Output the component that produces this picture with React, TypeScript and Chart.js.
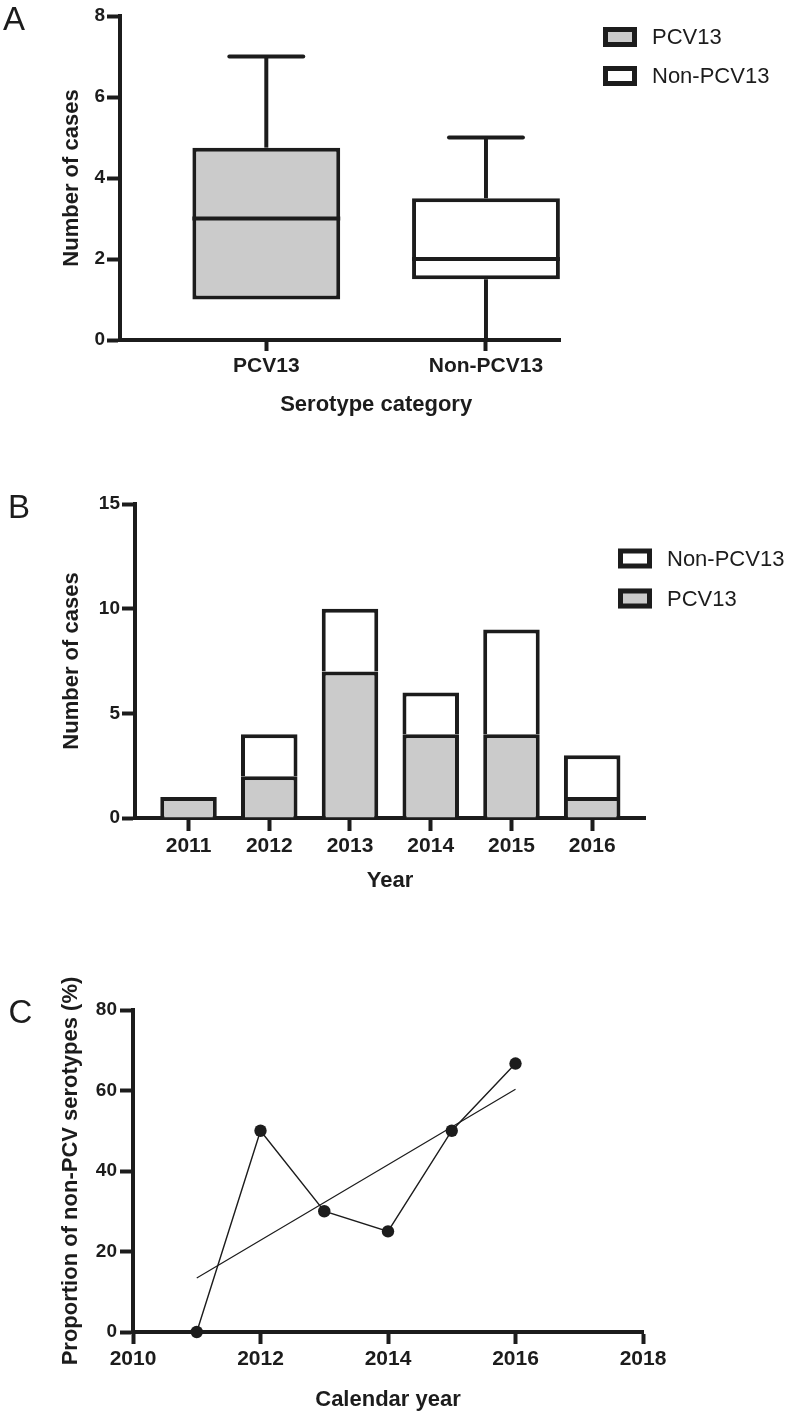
import React, { useEffect, useRef } from "react";
import { Chart, registerables } from "chart.js";

Chart.register(...registerables);

// ---------- Panel A: box plot of cases per year by serotype category ----------
const serotypeCategories = ["PCV13", "Non-PCV13"];
const boxMin = [1, 0];
const boxQ1 = [1, 1.5];
const boxMedian = [3, 2];
const boxQ3 = [4.75, 3.5];
const boxMax = [7, 5];

// ---------- Panel B: stacked cases per year ----------
const years = [2011, 2012, 2013, 2014, 2015, 2016];
const pcv13Cases = [1, 2, 7, 4, 4, 1];
const nonPcv13Cases = [0, 2, 3, 2, 5, 2];

// ---------- Panel C: proportion of non-PCV serotypes ----------
const calendarYears = [2011, 2012, 2013, 2014, 2015, 2016];
const proportionNonPcv = [0, 50, 30, 25, 50, 66.7];
const trendYears = [2011, 2016];
const trendValues = [13.4, 60.3];
const calendarTicks = [2010, 2012, 2014, 2016, 2018];

// ---------- styling ----------
const INK = "#1c1c1c";
const GREY = "#cbcbcb";
const WHITE = "#ffffff";
const FONT = "'Liberation Sans', Arial, Helvetica, sans-serif";
const boxFills = [GREY, WHITE];

const tickFont = (size: number) => ({ family: FONT, size, weight: "bold" as const });
const titleFont = { family: FONT, size: 22, weight: "bold" as const, lineHeight: 1 };

function valueAxis(min: number, max: number, step: number, width: number, title: string, tickPadding: number) {
  return {
    type: "linear",
    position: "left",
    min,
    max,
    ticks: { stepSize: step, color: INK, font: tickFont(19), padding: tickPadding },
    grid: {
      display: true,
      drawOnChartArea: false,
      drawTicks: true,
      tickLength: 13,
      tickWidth: 4,
      tickColor: INK,
      color: INK,
    },
    border: { display: true, width: 4, color: INK },
    title: { display: true, text: title, color: INK, font: titleFont, padding: 0 },
    afterFit: (s: any) => {
      s.width = width;
    },
  };
}

function indexAxis(
  min: number,
  max: number,
  tickValues: number[],
  labels: string[],
  height: number,
  tickLength: number,
  title: string | null,
  z: number
) {
  return {
    type: "linear",
    position: "bottom",
    min,
    max,
    z,
    offset: false,
    stacked: true,
    afterBuildTicks: (s: any) => {
      s.ticks = tickValues.map((v) => ({ value: v }));
    },
    ticks: {
      autoSkip: false,
      maxRotation: 0,
      minRotation: 0,
      color: INK,
      font: tickFont(21),
      padding: 3,
      callback: (v: number) => {
        const i = tickValues.indexOf(v);
        return i >= 0 ? labels[i] : "";
      },
    },
    grid: {
      display: true,
      offset: false,
      drawOnChartArea: false,
      drawTicks: true,
      tickLength,
      tickWidth: 4,
      tickColor: INK,
      color: INK,
    },
    border: { display: true, width: 4, color: INK },
    title: title
      ? { display: true, text: title, color: INK, font: titleFont, padding: 0 }
      : { display: false },
    afterFit: (s: any) => {
      s.height = height;
    },
  };
}

function panelLetter(letter: string, x: number, baseline: number) {
  return {
    id: "panelLetter" + letter,
    afterDraw(chart: any) {
      const ctx = chart.ctx;
      ctx.save();
      ctx.fillStyle = INK;
      ctx.font = `normal 33px ${FONT}`;
      ctx.textAlign = "left";
      ctx.textBaseline = "alphabetic";
      ctx.fillText(letter, x, baseline);
      ctx.restore();
    },
  };
}

function boxLegend(items: { label: string; fill: string }[], x: number, firstCenterY: number, rowGap: number) {
  return {
    id: "boxLegend",
    afterDraw(chart: any) {
      const ctx = chart.ctx;
      const w = 34;
      const h = 20;
      const lw = 5;
      ctx.save();
      items.forEach((it, i) => {
        const cy = firstCenterY + i * rowGap;
        ctx.fillStyle = it.fill;
        ctx.fillRect(x, cy - h / 2, w, h);
        ctx.strokeStyle = INK;
        ctx.lineWidth = lw;
        ctx.strokeRect(x + lw / 2, cy - h / 2 + lw / 2, w - lw, h - lw);
        ctx.fillStyle = INK;
        ctx.font = `normal 22px ${FONT}`;
        ctx.textAlign = "left";
        ctx.textBaseline = "middle";
        ctx.fillText(it.label, x + w + 15, cy + 1);
      });
      ctx.restore();
    },
  };
}

const whiskerPlugin = {
  id: "whiskers",
  afterDatasetsDraw(chart: any) {
    const ctx = chart.ctx;
    const y = chart.scales.y;
    const meta = chart.getDatasetMeta(0);
    ctx.save();
    ctx.strokeStyle = INK;
    ctx.lineWidth = 4;
    meta.data.forEach((bar: any, i: number) => {
      const cx = bar.x;
      const half = bar.width / 2;
      const capHalf = half / 2;
      const line = (x1: number, y1: number, x2: number, y2: number, cap: CanvasLineCap) => {
        ctx.lineCap = cap;
        ctx.beginPath();
        ctx.moveTo(x1, y1);
        ctx.lineTo(x2, y2);
        ctx.stroke();
      };
      // median
      const ym = y.getPixelForValue(boxMedian[i]);
      line(cx - half, ym, cx + half, ym, "butt");
      // upper whisker
      if (boxMax[i] > boxQ3[i]) {
        const y3 = y.getPixelForValue(boxQ3[i]);
        const yMax = y.getPixelForValue(boxMax[i]);
        line(cx, y3, cx, yMax, "butt");
        line(cx - capHalf, yMax, cx + capHalf, yMax, "round");
      }
      // lower whisker
      if (boxMin[i] < boxQ1[i]) {
        const y1 = y.getPixelForValue(boxQ1[i]);
        const yMin = y.getPixelForValue(boxMin[i]);
        line(cx, y1, cx, yMin, "butt");
        line(cx - capHalf, yMin, cx + capHalf, yMin, "butt");
      }
    });
    ctx.restore();
  },
};

const categoryTitlePlugin = {
  id: "categoryTitle",
  afterDraw(chart: any) {
    const x = chart.scales.x;
    const first = x.getPixelForValue(1);
    const last = x.getPixelForValue(serotypeCategories.length);
    const ctx = chart.ctx;
    ctx.save();
    ctx.fillStyle = INK;
    ctx.font = `bold 22px ${FONT}`;
    ctx.textAlign = "center";
    ctx.textBaseline = "middle";
    ctx.fillText("Serotype category", (first + last) / 2, 404.5);
    ctx.restore();
  },
};

const commonPlugins = {
  legend: { display: false },
  tooltip: { enabled: false },
  title: { display: false },
};

function configA(): any {
  const positions = serotypeCategories.map((_, i) => i + 1);
  return {
    type: "bar",
    data: {
      datasets: [
        {
          label: "Cases per year",
          data: positions.map((p, i) => ({ x: p, y: [boxQ1[i], boxQ3[i]] })),
          backgroundColor: boxFills,
          borderColor: INK,
          borderWidth: 4,
          borderSkipped: false,
          barPercentage: 0.673,
          categoryPercentage: 1,
        },
      ],
    },
    options: {
      responsive: false,
      animation: false,
      events: [],
      layout: { padding: { left: 61, top: 16, right: 236, bottom: 10 } },
      plugins: commonPlugins,
      scales: {
        x: { ...indexAxis(0.334, 2.337, positions, serotypeCategories, 100, 11, null, 1), stacked: false },
        y: valueAxis(0, 8, 2, 59, "Number of cases", 2),
      },
    },
    plugins: [
      whiskerPlugin,
      categoryTitlePlugin,
      boxLegend(
        serotypeCategories.map((c, i) => ({ label: c, fill: boxFills[i] })),
        603,
        37,
        39
      ),
      panelLetter("A", 3, 30),
    ],
  };
}

function configB(): any {
  const datasets = [
    {
      label: "PCV13",
      data: years.map((yr, i) => ({ x: yr, y: pcv13Cases[i] })),
      backgroundColor: GREY,
    },
    {
      label: "Non-PCV13",
      data: years.map((yr, i) => ({ x: yr, y: nonPcv13Cases[i] })),
      backgroundColor: WHITE,
    },
  ].map((d) => ({
    ...d,
    borderColor: INK,
    borderWidth: 4,
    barPercentage: 0.7,
    categoryPercentage: 1,
  }));
  return {
    type: "bar",
    data: { datasets },
    options: {
      responsive: false,
      animation: false,
      events: [],
      layout: { padding: { left: 61, top: 54, right: 151, bottom: 18.5 } },
      plugins: commonPlugins,
      scales: {
        x: indexAxis(2010.337, 2016.654, years, years.map(String), 73.5, 13, "Year", 1),
        y: { ...valueAxis(0, 15, 5, 74, "Number of cases", 2), stacked: true },
      },
    },
    plugins: [
      boxLegend(
        [...datasets].reverse().map((d) => ({ label: d.label, fill: d.backgroundColor })),
        618,
        108.5,
        40
      ),
      panelLetter("B", 8, 68.3),
    ],
  };
}

function configC(): any {
  return {
    type: "line",
    data: {
      datasets: [
        {
          label: "Linear trend",
          data: trendYears.map((x, i) => ({ x, y: trendValues[i] })),
          borderColor: INK,
          borderWidth: 1.2,
          pointRadius: 0,
          fill: false,
          clip: false,
        },
        {
          label: "Proportion of non-PCV serotypes",
          data: calendarYears.map((x, i) => ({ x, y: proportionNonPcv[i] })),
          borderColor: INK,
          borderWidth: 1.4,
          pointRadius: 6.2,
          pointBackgroundColor: INK,
          pointBorderColor: INK,
          pointBorderWidth: 0,
          fill: false,
          clip: false,
        },
      ],
    },
    options: {
      responsive: false,
      animation: false,
      events: [],
      layout: { padding: { left: 60, top: 100, right: 153, bottom: 0 } },
      plugins: commonPlugins,
      scales: {
        x: { ...indexAxis(2010, 2018, calendarTicks, calendarTicks.map(String), 79, 12, "Calendar year", 0), stacked: false },
        y: valueAxis(0, 80, 20, 73, "Proportion of non-PCV serotypes (%)", 3),
      },
    },
    plugins: [panelLetter("C", 8.5, 112.7)],
  };
}

export default function App() {
  const refA = useRef<HTMLCanvasElement>(null);
  const refB = useRef<HTMLCanvasElement>(null);
  const refC = useRef<HTMLCanvasElement>(null);

  useEffect(() => {
    const charts: Chart[] = [];
    if (refA.current) charts.push(new Chart(refA.current, configA()));
    if (refB.current) charts.push(new Chart(refB.current, configB()));
    if (refC.current) charts.push(new Chart(refC.current, configC()));
    return () => charts.forEach((c) => c.destroy());
  }, []);

  const canvasStyle = (top: number, height: number): React.CSSProperties => ({
    position: "absolute",
    left: 0,
    top,
    width: 796,
    height,
    display: "block",
  });

  return (
    <div style={{ position: "absolute", left: 0, top: 0, width: 796, height: 1411, background: "#ffffff", overflow: "hidden" }}>
      <canvas ref={refA} width={796} height={450} style={canvasStyle(0, 450)} />
      <canvas ref={refB} width={796} height={460} style={canvasStyle(450, 460)} />
      <canvas ref={refC} width={796} height={501} style={canvasStyle(910, 501)} />
    </div>
  );
}
